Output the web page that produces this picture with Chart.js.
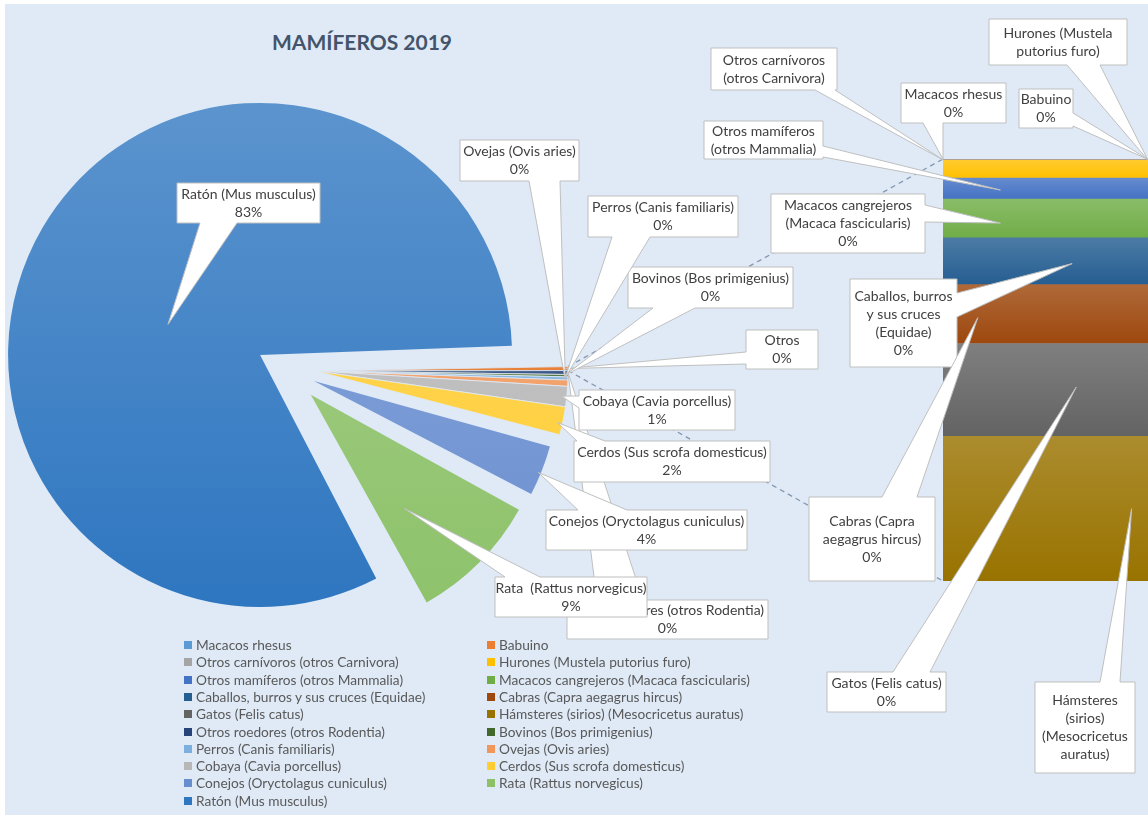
<!DOCTYPE html>
<html>
<head>
<meta charset="utf-8">
<script src="https://cdn.jsdelivr.net/npm/chart.js@4.4.1/dist/chart.umd.min.js"></script>
<style>
  body { margin: 0; width: 1148px; height: 819px; overflow: hidden; position: relative; background: #fff; font-family: Lato, 'Open Sans', sans-serif; }
  #panel { position: absolute; left: 5px; top: 4px; width: 1143px; height: 811px; background: #dfeaf6; }
  canvas { position: absolute; left: 0; top: 0; }
  #title { position: absolute; left: 242px; width: 240px; top: 29px; text-align: center; font-weight: bold; font-size: 21px; color: #44546a; }
  #legend { position: absolute; left: 0; top: 0; }
  .sw { position: absolute; width: 8px; height: 8px; }
  .lt { position: absolute; font-size: 13.7px; line-height: 16px; color: #595959; white-space: nowrap; }
</style>
</head>
<body>
<div id="panel"></div>
<div id="title">MAMÍFEROS 2019</div>
<canvas id="pieA" width="1148" height="819"></canvas>
<canvas id="pieB" width="1148" height="819"></canvas>
<canvas id="bar" width="1148" height="819"></canvas>
<div id="legend"></div>
<script>
// Second plot (bar): small groups, from top to bottom of the column
const barNames = ['Macacos rhesus', 'Babuino', 'Otros carnívoros (otros Carnivora)', 'Hurones (Mustela putorius furo)',
  'Otros mamíferos (otros Mammalia)', 'Macacos cangrejeros (Macaca fascicularis)', 'Caballos, burros y sus cruces (Equidae)',
  'Cabras (Capra aegagrus hircus)', 'Gatos (Felis catus)', 'Hámsteres (sirios) (Mesocricetus auratus)'];
const barValues = [1, 1, 3, 74, 87, 161, 194, 244, 385, 600];
const barColors = ['#5B9BD5', '#ED7D31', '#A5A5A5', '#FFC000', '#4472C4', '#70AD47', '#255E91', '#9E480E', '#636363', '#997300'];

// Main pie: the rest, plus "Otros" (= the bar column)
const pieNames = ['Otros roedores (otros Rodentia)', 'Bovinos (Bos primigenius)', 'Perros (Canis familiaris)', 'Ovejas (Ovis aries)',
  'Cobaya (Cavia porcellus)', 'Cerdos (Sus scrofa domesticus)', 'Conejos (Oryctolagus cuniculus)', 'Rata (Rattus norvegicus)', 'Ratón (Mus musculus)'];
const pieValues = [1750, 1050, 1400, 2800, 9100, 12600, 26600, 64400, 578550];
const pieColors = ['#264478', '#43682B', '#7CAFDD', '#F1975A', '#B7B7B7', '#FFCD33', '#698ED0', '#8CC168', '#2E76C0'];
const otrosLabel = 'Otros';
const otrosColor = '#E5711F';

const barTotal = barValues.reduce((s, v) => s + v, 0);
const pieLabels = [otrosLabel, ...pieNames];
const pieData = [barTotal, ...pieValues];
const pieAllColors = [otrosColor, ...pieColors];
const pieTotal = pieData.reduce((s, v) => s + v, 0);

const pct = (v) => Math.round(v / pieTotal * 100) + '%';

// slices pulled far out of the pie (Conejos, Rata, Ratón); the rest stay near the centre
const isExploded = (i) => i >= pieData.length - 3;

const BG = '#dfeaf6';

// lighten a hex colour towards white
const mix = (hex, amt) => {
  const n = parseInt(hex.slice(1), 16);
  const ch = [n >> 16, (n >> 8) & 255, n & 255].map(c => Math.round(c + (255 - c) * amt));
  return `rgb(${ch[0]},${ch[1]},${ch[2]})`;
};

const pieFill = (c) => {
  const base = pieAllColors[c.dataIndex];
  const ca = c.chart.chartArea;
  if (!ca) return base;
  const cy = (ca.top + ca.bottom) / 2;
  const g = c.chart.ctx.createLinearGradient(0, cy - 255, 0, cy + 255);
  g.addColorStop(0, mix(base, 0.22));
  g.addColorStop(1, base);
  return g;
};

// value range of each bar segment (stack runs bottom-up)
const barBounds = barValues.map((v, i) => {
  const below = barValues.slice(i + 1).reduce((s, x) => s + x, 0);
  return [below, below + v];
});

const barFill = (c) => {
  const i = barNames.length - 1 - c.datasetIndex;
  const base = barColors[i];
  const ys = c.chart.scales && c.chart.scales.y;
  if (!ys || !c.chart.chartArea) return base;
  const top = ys.getPixelForValue(barBounds[i][1]);
  const bot = ys.getPixelForValue(barBounds[i][0]);
  if (!isFinite(top) || !isFinite(bot) || bot - top < 2) return base;
  const g = c.chart.ctx.createLinearGradient(0, top, 0, bot);
  g.addColorStop(0, mix(base, 0.18));
  g.addColorStop(1, base);
  return g;
};

const basePieOptions = (padding) => ({
  responsive: false,
  animation: false,
  rotation: 89,
  layout: { padding },
  plugins: { legend: { display: false }, tooltip: { enabled: false } }
});

// exploded slices (Chart.js moves them out by offset / 4)
const pieA = new Chart(document.getElementById('pieA'), {
  type: 'pie',
  data: {
    labels: pieLabels,
    datasets: [{
      data: pieData,
      backgroundColor: (c) => isExploded(c.dataIndex) ? pieFill(c) : 'rgba(0,0,0,0)',
      borderWidth: 0,
      offset: (c) => c.dataIndex === 8 ? 140 : 120,
      radius: 222
    }]
  },
  options: basePieOptions({ left: 0, top: 0, right: 576, bottom: 79 })
});

// the thin slices, sitting just off the centre with hairline gaps
const pieB = new Chart(document.getElementById('pieB'), {
  type: 'pie',
  data: {
    labels: pieLabels,
    datasets: [{
      data: pieData,
      backgroundColor: (c) => isExploded(c.dataIndex) ? 'rgba(0,0,0,0)' : pieFill(c),
      borderColor: BG,
      borderWidth: (c) => isExploded(c.dataIndex) ? 0 : 0.8,
      radius: 252
    }]
  },
  options: basePieOptions({ left: 0, top: 0, right: 516, bottom: 77 })
});

const sliceEl = (i) => (isExploded(i) ? pieA : pieB).getDatasetMeta(0).data[i];

// callout boxes (layout only): box = [x, y, w, h], base = ends of the pointer on that side,
// at = [fraction along the slice/segment, fraction of radius/height]
const pieCallouts = [
  { i: 1, box: [567, 600, 201, 39], side: 'top', base: [597, 643], at: [0.5, 1], lines: ['Otros roedores (otros Rodentia)'] },
  { i: 0, box: [746, 330, 72, 39], side: 'left', base: [352, 364], at: [0.5, 0.99], lines: ['Otros'] },
  { i: 2, box: [628, 267, 165, 41], side: 'bottom', base: [653, 695], at: [0.2, 0.99], lines: ['Bovinos (Bos primigenius)'] },
  { i: 3, box: [588, 196, 150, 41], side: 'bottom', base: [612, 650], at: [0.1, 0.99], lines: ['Perros (Canis familiaris)'] },
  { i: 4, box: [460, 140, 119, 41], side: 'bottom', base: [529, 560], at: [0.05, 0.99], lines: ['Ovejas (Ovis aries)'] },
  { i: 5, box: [579, 390, 156, 40], side: 'left', base: [396, 408], at: [0.5, 0.98], lines: ['Cobaya (Cavia porcellus)'] },
  { i: 6, box: [574, 441, 196, 41], side: 'top', base: [577, 605], at: [0.6, 0.98], lines: ['Cerdos (Sus scrofa domesticus)'] },
  { i: 7, box: [546, 510, 201, 40], side: 'top', base: [578, 627], at: [0.55, 0.99], lines: ['Conejos (Oryctolagus cuniculus)'] },
  { i: 8, box: [495, 577, 152, 40], side: 'top', base: [505, 540], at: [0.67, 0.62], lines: ['Rata  (Rattus norvegicus)'] },
  { i: 9, box: [177, 183, 143, 40], side: 'bottom', base: [200, 237], at: [0.46, 0.385], lines: ['Ratón (Mus musculus)'] }
];

const barCallouts = [
  { i: 0, box: [901, 83, 105, 40], side: 'bottom', base: [923, 943], at: [0.0, 0.5], lines: ['Macacos rhesus'], showPct: true },
  { i: 1, box: [1019, 89, 54, 39], side: 'right', base: [113, 126], at: [1.0, 0.5], lines: ['Babuino'], showPct: true },
  { i: 2, box: [711, 48, 126, 42], side: 'bottom', base: [815, 835], at: [0.0, 0.5], lines: ['Otros carnívoros', '(otros Carnivora)'] },
  { i: 3, box: [989, 19, 138, 46], side: 'bottom', base: [1067, 1100], at: [1.0, 0.0], lines: ['Hurones (Mustela', 'putorius furo)'] },
  { i: 4, box: [704, 121, 119, 38], side: 'right', base: [146, 157], at: [0.28, 0.57], lines: ['Otros mamíferos', '(otros Mammalia)'] },
  { i: 5, box: [771, 194, 154, 59], side: 'right', base: [205, 222], at: [0.28, 0.62], lines: ['Macacos cangrejeros', '(Macaca fascicularis)'], showPct: true },
  { i: 6, box: [850, 279, 107, 88], side: 'right', base: [293, 317], at: [0.63, 0.55], lines: ['Caballos, burros', 'y sus cruces', '(Equidae)'], showPct: true },
  { i: 7, box: [809, 497, 126, 84], side: 'top', base: [882, 917], at: [0.17, 0.56], lines: ['Cabras (Capra', 'aegagrus hircus)'], showPct: true },
  { i: 8, box: [827, 672, 119, 40], side: 'top', base: [893, 930], at: [0.65, 0.47], lines: ['Gatos (Felis catus)'], showPct: true },
  { i: 9, box: [1035, 682, 100, 91], side: 'top', base: [1100, 1120], at: [0.92, 0.5], lines: ['Hámsteres', '(sirios)', '(Mesocricetus', 'auratus)'] }
];

// geometry of a drawn pie slice
const arcGeom = (el) => {
  const t = (el.options.offset || 0) / 4;
  const s = el.startAngle, e = el.endAngle, mid = (s + e) / 2;
  return {
    cx: el.x + Math.cos(mid) * t,
    cy: el.y + Math.sin(mid) * t,
    r: el.outerRadius + t * (1 - Math.sin(Math.min(Math.PI, e - s))),
    s, e
  };
};

const arcPoint = (el, fa, fr) => {
  const g = arcGeom(el);
  const a = g.s + fa * (g.e - g.s);
  return { x: g.cx + Math.cos(a) * g.r * fr, y: g.cy + Math.sin(a) * g.r * fr };
};

const barPoint = (el, fx, fy) => {
  const top = Math.min(el.y, el.base), bot = Math.max(el.y, el.base);
  return { x: el.x - el.width / 2 + fx * el.width, y: top + fy * (bot - top) };
};

const calloutPath = (ctx, c, tip) => {
  const [x, y, w, h] = c.box;
  const [a, z] = c.base;
  ctx.beginPath();
  ctx.moveTo(x, y);
  if (c.side === 'top') { ctx.lineTo(a, y); ctx.lineTo(tip.x, tip.y); ctx.lineTo(z, y); }
  ctx.lineTo(x + w, y);
  if (c.side === 'right') { ctx.lineTo(x + w, a); ctx.lineTo(tip.x, tip.y); ctx.lineTo(x + w, z); }
  ctx.lineTo(x + w, y + h);
  if (c.side === 'bottom') { ctx.lineTo(z, y + h); ctx.lineTo(tip.x, tip.y); ctx.lineTo(a, y + h); }
  ctx.lineTo(x, y + h);
  if (c.side === 'left') { ctx.lineTo(x, z); ctx.lineTo(tip.x, tip.y); ctx.lineTo(x, a); }
  ctx.closePath();
};

const drawCallout = (ctx, c, tip, lines) => {
  calloutPath(ctx, c, tip);
  ctx.fillStyle = '#ffffff';
  ctx.fill();
  ctx.strokeStyle = '#bfbfbf';
  ctx.lineWidth = 1;
  ctx.stroke();
  const [x, y, w, h] = c.box;
  const lh = 18;
  ctx.fillStyle = '#404040';
  ctx.font = '14px Lato, "Open Sans", sans-serif';
  ctx.textAlign = 'center';
  ctx.textBaseline = 'middle';
  const y0 = y + h / 2 - (lines.length - 1) * lh / 2;
  lines.forEach((t, k) => ctx.fillText(t, x + w / 2, y0 + k * lh));
};

const calloutPlugin = {
  id: 'callouts',
  afterDraw(chart) {
    const ctx = chart.ctx;
    const segEl = (i) => chart.getDatasetMeta(barNames.length - 1 - i).data[0];

    // series lines from the "Otros" slice to the column
    const og = arcGeom(sliceEl(0));
    const topEl = segEl(0), botEl = segEl(barNames.length - 1);
    const colLeft = topEl.x - topEl.width / 2;
    ctx.save();
    ctx.strokeStyle = '#8497b0';
    ctx.lineWidth = 1.3;
    ctx.setLineDash([5, 4]);
    ctx.beginPath();
    ctx.moveTo(og.cx + Math.cos(og.s) * og.r, og.cy + Math.sin(og.s) * og.r);
    ctx.lineTo(colLeft, Math.min(topEl.y, topEl.base));
    ctx.moveTo(og.cx + Math.cos(og.e) * og.r, og.cy + Math.sin(og.e) * og.r);
    ctx.lineTo(colLeft, Math.max(botEl.y, botEl.base));
    ctx.stroke();
    ctx.restore();

    ctx.save();
    pieCallouts.forEach(c => {
      const tip = arcPoint(sliceEl(c.i), c.at[0], c.at[1]);
      drawCallout(ctx, c, tip, [...c.lines, pct(pieData[c.i])]);
    });
    barCallouts.forEach(c => {
      const tip = barPoint(segEl(c.i), c.at[0], c.at[1]);
      drawCallout(ctx, c, tip, c.showPct ? [...c.lines, pct(barValues[c.i])] : c.lines);
    });
    ctx.restore();
  }
};

const barChart = new Chart(document.getElementById('bar'), {
  type: 'bar',
  data: {
    labels: [''],
    datasets: barNames.map((n, k) => barNames.length - 1 - k).map(i => ({
      label: barNames[i],
      data: [barValues[i]],
      backgroundColor: barFill,
      borderWidth: 0,
      barPercentage: 1,
      categoryPercentage: 1
    }))
  },
  options: {
    responsive: false,
    animation: false,
    layout: { padding: { left: 943, top: 159, right: 0, bottom: 238 } },
    scales: {
      x: { display: false, stacked: true },
      y: { display: false, stacked: true, min: 0, max: barTotal }
    },
    plugins: { legend: { display: false }, tooltip: { enabled: false } }
  },
  plugins: [calloutPlugin]
});

// legend: two columns, row by row
const legendNames = [...barNames, ...pieNames];
const legendColors = [...barColors, ...pieColors];
const legend = document.getElementById('legend');
legendNames.forEach((name, k) => {
  const x = k % 2 === 0 ? 184 : 487;
  const yc = 645 + Math.floor(k / 2) * 17.3;
  const sw = document.createElement('div');
  sw.className = 'sw';
  sw.style.left = x + 'px';
  sw.style.top = (yc - 4) + 'px';
  sw.style.background = legendColors[k];
  const tx = document.createElement('div');
  tx.className = 'lt';
  tx.style.left = (x + 12) + 'px';
  tx.style.top = (yc - 8) + 'px';
  tx.textContent = name;
  legend.appendChild(sw);
  legend.appendChild(tx);
});
</script>
</body>
</html>
